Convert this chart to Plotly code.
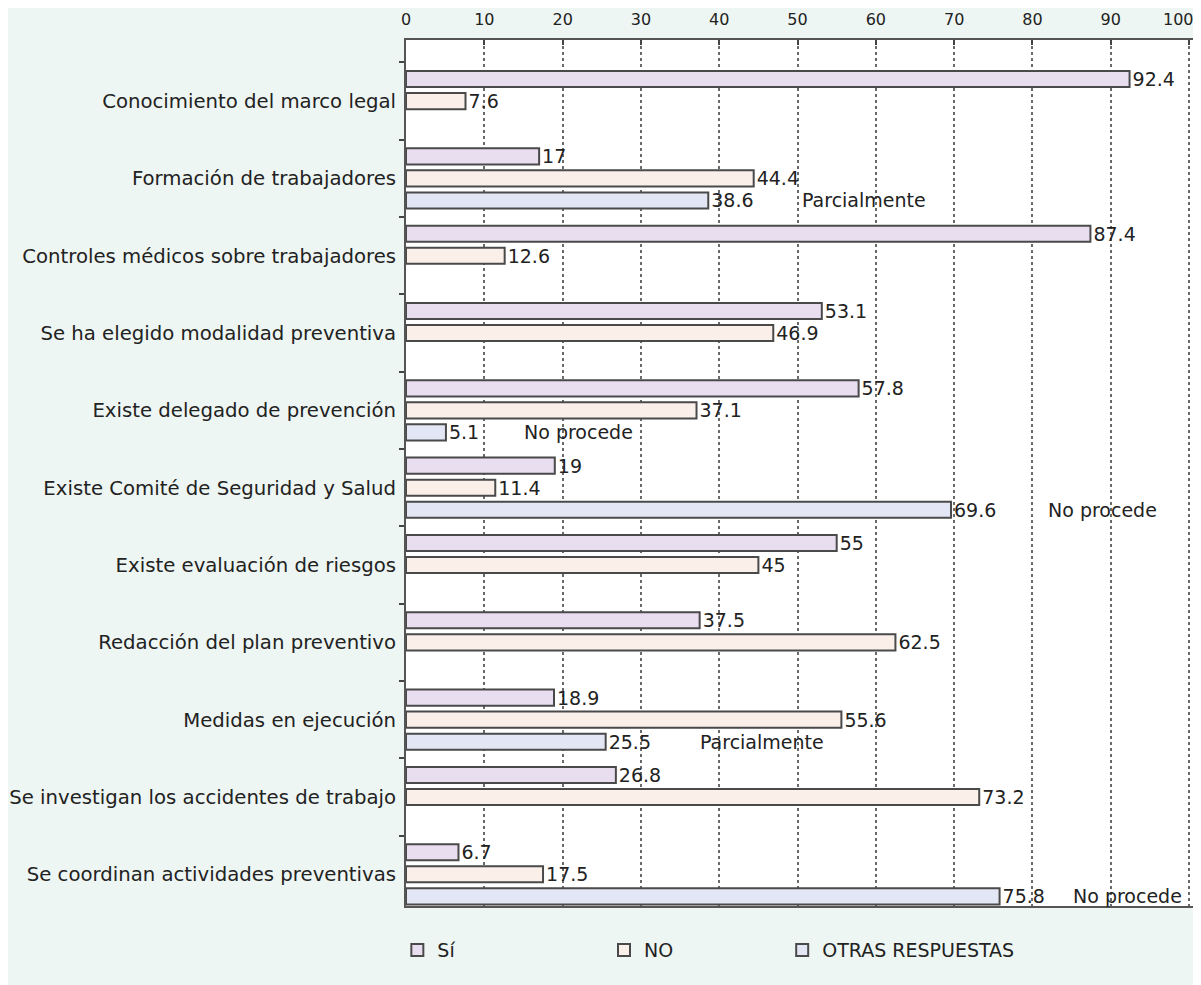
import plotly.graph_objects as go

categories = [
    "Conocimiento del marco legal",
    "Formación de trabajadores",
    "Controles médicos sobre trabajadores",
    "Se ha elegido modalidad preventiva",
    "Existe delegado de prevención",
    "Existe Comité de Seguridad y Salud",
    "Existe evaluación de riesgos",
    "Redacción del plan preventivo",
    "Medidas en ejecución",
    "Se investigan los accidentes de trabajo",
    "Se coordinan actividades preventivas",
]
si = [92.4, 17, 87.4, 53.1, 57.8, 19, 55, 37.5, 18.9, 26.8, 6.7]
no = [7.6, 44.4, 12.6, 46.9, 37.1, 11.4, 45, 62.5, 55.6, 73.2, 17.5]
otras = [None, 38.6, None, None, 5.1, 69.6, None, None, 25.5, None, 75.8]
otras_notes = [None, "Parcialmente", None, None, "No procede", "No procede",
               None, None, "Parcialmente", None, "No procede"]
x_ticks = [0, 10, 20, 30, 40, 50, 60, 70, 80, 90, 100]

# style
note_shift = {1: 92, 4: 76, 5: 95, 8: 92, 10: 71}
FONT = "DejaVu Sans"
TXT = "#222222"
EDGE = "#4a4a4a"


def fmt(v):
    if v is None:
        return ""
    return f"{v:g}"


fig = go.Figure()
series = [
    ("Sí", si, "#e9ddf0", "legend"),
    ("NO", no, "#fbefea", "legend2"),
    ("OTRAS RESPUESTAS", otras, "#e3e6f4", "legend3"),
]
for name, vals, col, lg in series:
    fig.add_trace(go.Bar(
        name=name, y=categories, x=vals, orientation="h",
        marker=dict(color=col, line=dict(color=EDGE, width=2)),
        text=[fmt(v) for v in vals], textposition="outside",
        constraintext="none",
        textfont=dict(family=FONT, size=19, color=TXT),
        cliponaxis=False, legend=lg,
    ))

for i, note in enumerate(otras_notes):
    if note:
        fig.add_annotation(
            x=otras[i], y=categories[i], xref="x", yref="y",
            text=note, showarrow=False, xanchor="left", yanchor="middle",
            xshift=note_shift.get(i, 85), yshift=-22,
            font=dict(family=FONT, size=19, color=TXT),
        )

# last top tick label, kept inside the page edge
last_tick = x_ticks[-1]
fig.add_annotation(
    x=last_tick, y=1, xref="x", yref="paper", text=str(last_tick),
    showarrow=False, xanchor="right", yanchor="bottom", xshift=7, yshift=9,
    font=dict(family=FONT, size=16, color=TXT),
)

leg_common = dict(orientation="h", yanchor="middle", y=-0.051,
                  bgcolor="rgba(0,0,0,0)",
                  font=dict(family=FONT, size=19, color=TXT))

fig.update_layout(
    width=1193, height=977,
    margin=dict(l=398, r=8, t=32, b=79),
    paper_bgcolor="#eef6f3",
    plot_bgcolor="#ffffff",
    barmode="group",
    bargap=0.145,
    bargroupgap=0.27,
    font=dict(family=FONT, size=19, color=TXT),
    showlegend=True,
    legend=dict(x=-0.011, xanchor="left", **leg_common),
    legend2=dict(x=0.2516, xanchor="left", **leg_common),
    legend3=dict(x=0.478, xanchor="left", **leg_common),
    xaxis=dict(
        side="top", range=[0, 100.5], tickvals=x_ticks,
        ticktext=[str(t) if t != last_tick else "" for t in x_ticks],
        showgrid=True, gridcolor="#6a6a6a", griddash="dot", gridwidth=1.5,
        showline=True, linecolor="#555555", linewidth=2, mirror=True,
        ticks="inside", ticklen=5, tickcolor="#444444", tickwidth=1.5,
        tickfont=dict(family=FONT, size=16, color=TXT),
        ticklabelstandoff=7, ticklabeloverflow="allow",
        zeroline=False, fixedrange=True, automargin=False,
    ),
    yaxis=dict(
        autorange=False, range=[10.41, -0.79],
        showline=True, linecolor="#555555", linewidth=2, mirror=True,
        ticks="outside", tickson="boundaries", ticklen=5,
        tickcolor="#444444", tickwidth=1.5,
        tickfont=dict(family=FONT, size=19.7, color=TXT),
        ticklabelstandoff=4,
        showgrid=False, fixedrange=True, automargin=False,
    ),
)

fig.write_html("out.html")
